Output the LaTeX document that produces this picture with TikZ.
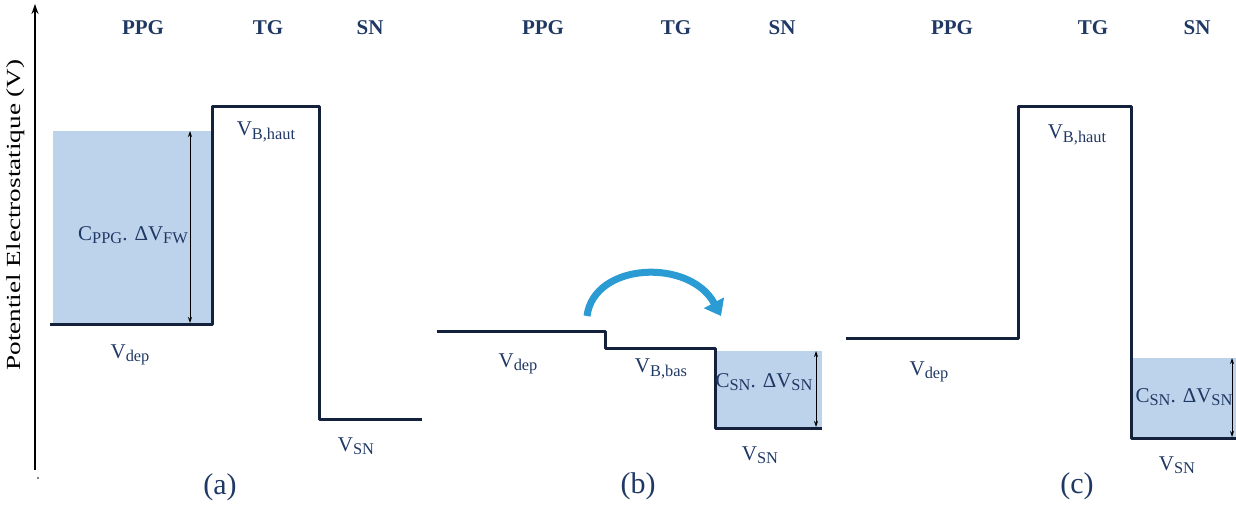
\documentclass[tikz,border=0pt]{standalone}
\usepackage{fontspec}
\setmainfont{Liberation Serif}
\usetikzlibrary{arrows.meta}
\definecolor{lineC}{HTML}{14213D}
\definecolor{textC}{HTML}{1F3864}
\definecolor{boxC}{HTML}{BDD3EB}
\definecolor{arcC}{HTML}{2A9BD3}
\newcommand{\sbs}[1]{\raisebox{-0.35ex}{\scalebox{0.78}{#1}}}
\tikzset{
  level/.style={draw=lineC, line width=3pt, line join=round},
  fillbox/.style={fill=boxC, draw=none},
  dimarr/.style={black, line width=0.8pt, {Stealth[length=6pt,width=4pt]}-{Stealth[length=6pt,width=4pt]}},
  lbl/.style={text=textC, font=\fontsize{21}{24}\selectfont, inner sep=0pt},
  hdr/.style={text=textC, font=\fontsize{21}{24}\selectfont\bfseries, inner sep=0pt},
  captxt/.style={text=textC, font=\fontsize{30}{34}\selectfont, inner sep=0pt},
  curvarr/.style={draw=arcC, line width=7pt, -{Triangle[length=15pt,width=22pt]}}
}
\begin{document}
\begin{tikzpicture}[x=1pt,y=-1pt]
\useasboundingbox (0,0) rectangle (1236,508);
% axis
\draw[black, line width=1.5pt, -{Stealth[length=10pt,width=7pt]}] (35,470) -- (35,4);
\fill[black] (38,478) circle (0.8);
\node[rotate=90, font=\fontsize{20}{24}\selectfont, inner sep=0pt] (ylab) at (16,215) {\scalebox{1.36}[1]{Potentiel Electrostatique (V)}};

% ---------- panel (a)
\node[hdr] (pa1) at (143,28) {PPG};
\node[hdr] (pa2) at (268,28) {TG};
\node[hdr] (pa3) at (370,28) {SN};
\fill[fillbox] (53,131) rectangle (212,324);
\draw[level] (50,324) -- (212,324) -- (212,107) -- (319,107) -- (319,419) -- (422,419);
\coordinate (aT) at (190,131);
\coordinate (aB) at (190,323);
\draw[dimarr] (aT) -- (aB);
\node[lbl] (aC) at (133,235) {C\sbs{PPG}. ΔV\sbs{FW}};
\node[lbl] (aVB) at (266,132) {V\sbs{B,haut}};
\node[lbl] (aVd) at (130,355) {V\sbs{dep}};
\node[lbl] (aVs) at (356,446) {V\sbs{SN}};
\node[captxt] (ca) at (220,487) {(a)};

% ---------- panel (b)
\node[hdr] (pb1) at (543,28) {PPG};
\node[hdr] (pb2) at (676,28) {TG};
\node[hdr] (pb3) at (782,28) {SN};
\fill[fillbox] (715,351) rectangle (822,428);
\draw[level] (437,331) -- (605,331) -- (605,348) -- (715,348) -- (715,428) -- (822,428);
\coordinate (bT) at (816,351);
\coordinate (bB) at (816,427);
\draw[dimarr] (bT) -- (bB);
\node[lbl] (bC) at (764,382) {C\sbs{SN}. ΔV\sbs{SN}};
\node[lbl] (bVd) at (518,364) {V\sbs{dep}};
\node[lbl] (bVB) at (661,369) {V\sbs{B,bas}};
\node[lbl] (bVs) at (760,455) {V\sbs{SN}};
\node[captxt] (cb) at (638,486) {(b)};
\coordinate (arcS) at (587,316);
\coordinate (arcE) at (721,316);
\draw[curvarr] (arcS) .. controls (594,262) and (690,258) .. (arcE);

% ---------- panel (c)
\node[hdr] (pc1) at (952,28) {PPG};
\node[hdr] (pc2) at (1093,28) {TG};
\node[hdr] (pc3) at (1197,28) {SN};
\fill[fillbox] (1131,358) rectangle (1236,438);
\draw[level] (846,338) -- (1018,338) -- (1018,107) -- (1131,107) -- (1131,438) -- (1236,438);
\coordinate (cT) at (1232,358);
\coordinate (cB) at (1232,437);
\draw[dimarr] (cT) -- (cB);
\node[lbl] (cC) at (1184,397) {C\sbs{SN}. ΔV\sbs{SN}};
\node[lbl] (cVB) at (1077,135) {V\sbs{B,haut}};
\node[lbl] (cVd) at (929,372) {V\sbs{dep}};
\node[lbl] (cVs) at (1177,465) {V\sbs{SN}};
\node[captxt] (cc) at (1077,486) {(c)};
\end{tikzpicture}
\end{document}
